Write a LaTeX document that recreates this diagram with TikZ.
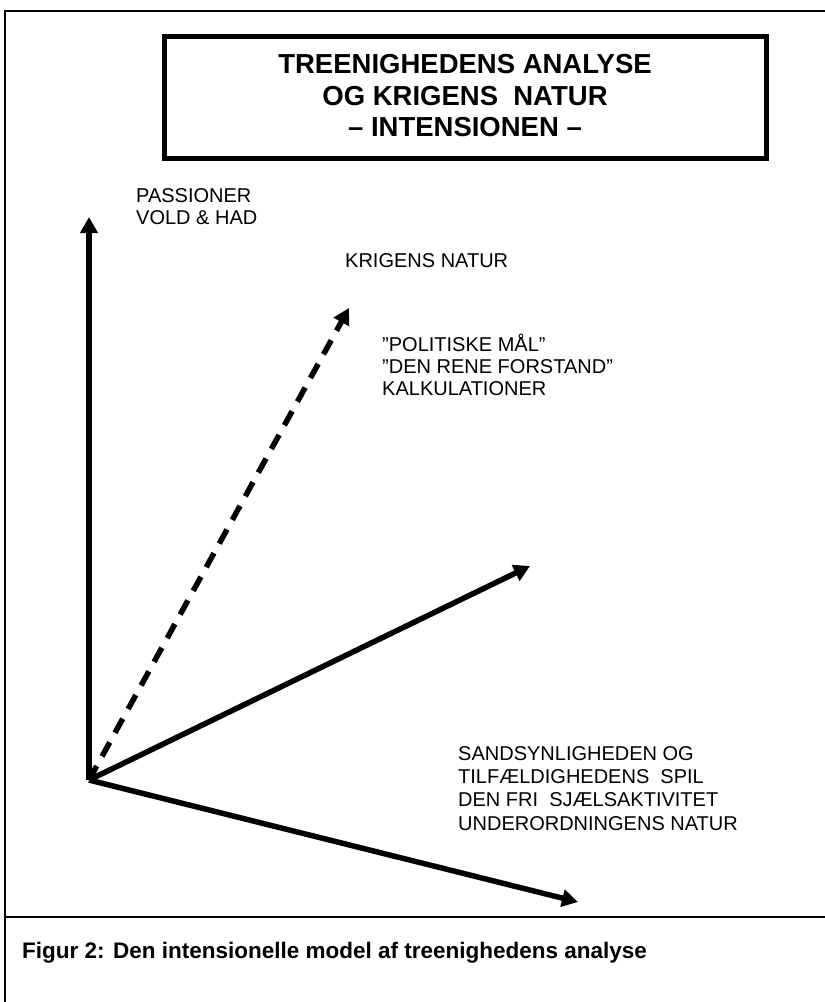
\documentclass[tikz,border=0pt]{standalone}
\usepackage{fontspec}
\setmainfont{Liberation Sans}
\usetikzlibrary{arrows.meta}

\tikzset{
  vec/.style={line width=5.5pt, -{Triangle[length=16pt,width=17pt]}},
  lbl/.style={anchor=base west, align=left, inner sep=0pt, font=\fontsize{20}{23}\selectfont},
}

\begin{document}
\begin{tikzpicture}[x=1pt, y=-1pt]
\useasboundingbox (0,0) rectangle (825,1002);

% ramme
\draw[line width=2pt] (825,10.5) -- (5,10.5) -- (5,1002);
\draw[line width=2pt] (5,917) -- (825,917);

% titel
\node[draw, line width=5pt, minimum width=602pt, minimum height=122pt] (titel) at (465,97) {};
\node[anchor=base, align=center, inner sep=0pt, font=\bfseries\fontsize{27.5}{31.7}\selectfont]
  (titeltxt) at (465,136.7) {TREENIGHEDENS ANALYSE\\OG KRIGENS\ \ NATUR\\– INTENSIONEN –};

\coordinate (o) at (89,780);
\coordinate (pas) at (89,217);
\coordinate (kri) at (349,308);
\coordinate (pol) at (530,566);
\coordinate (san) at (578,902);

\draw[vec] (o) -- (pas);
\draw[vec, dash pattern=on 16pt off 11pt] (o) -- (kri);
\draw[vec] (o) -- (pol);
\draw[vec] (o) -- (san);

% tekster (base = sidste linje)
\node[lbl, font=\fontsize{20}{21.5}\selectfont] (passion) at (136,224) {PASSIONER\\VOLD \& HAD};
\node[lbl] (krignat) at (345,267) {KRIGENS NATUR};
\node[lbl, font=\fontsize{20}{21.7}\selectfont] (politik) at (382,395)
  {”POLITISKE MÅL”\\”DEN RENE FORSTAND”\\KALKULATIONER};
\node[lbl, font=\fontsize{20}{23.3}\selectfont] (sandsyn) at (458,830)
  {SANDSYNLIGHEDEN OG\\TILFÆLDIGHEDENS\ \ SPIL\\DEN FRI\ \ SJÆLSAKTIVITET\\UNDERORDNINGENS NATUR};

\node[anchor=base west, inner sep=0pt, font=\bfseries\fontsize{22.5}{26}\selectfont] (figtxt) at (22,958)
  {Figur 2: Den intensionelle model af treenighedens analyse};
\end{tikzpicture}
\end{document}
